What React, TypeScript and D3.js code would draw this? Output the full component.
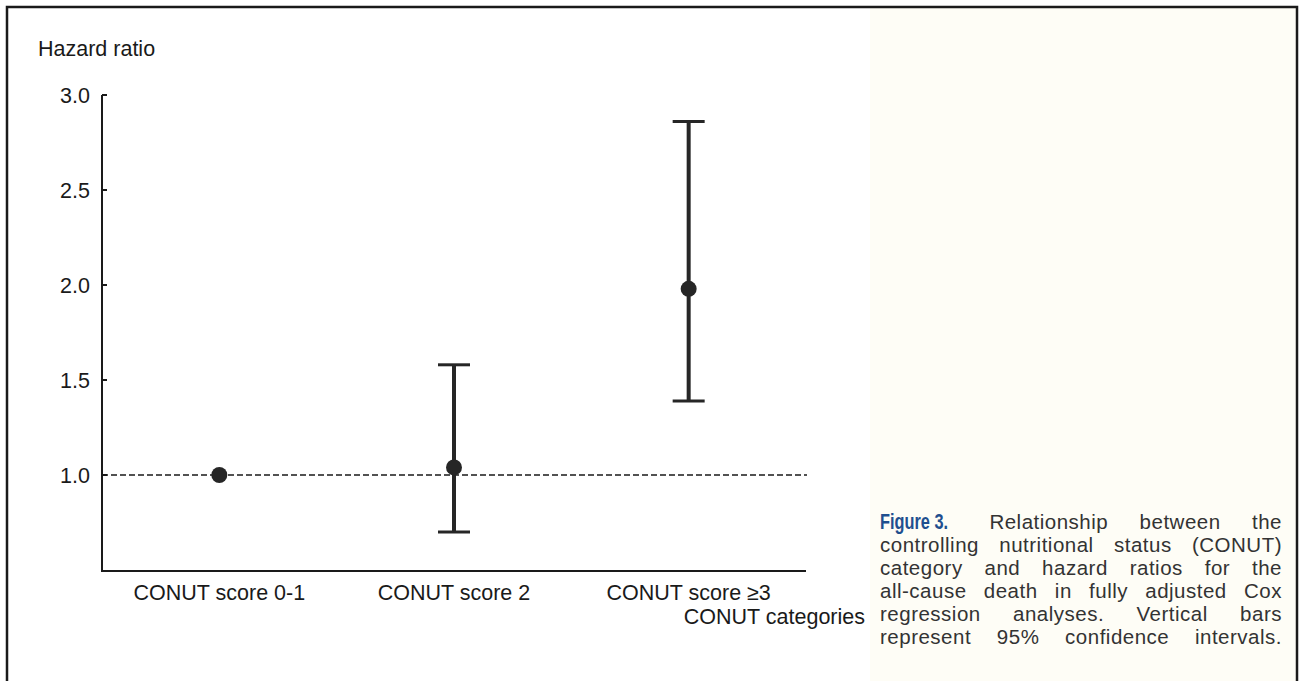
import React, { useEffect, useRef } from 'react';
import * as d3 from 'd3';

const categories = ['CONUT score 0-1', 'CONUT score 2', 'CONUT score \u22653'];
const hazardRatio = [1.0, 1.04, 1.98];
const ciLower = [1.0, 0.7, 1.39];
const ciUpper = [1.0, 1.58, 2.86];
const yTicks = [1.0, 1.5, 2.0, 2.5, 3.0];

const captionLines = [
  'Relationship between the',
  'controlling nutritional status (CONUT)',
  'category and hazard ratios for the',
  'all-cause death in fully adjusted Cox',
  'regression analyses. Vertical bars',
  'represent 95% confidence intervals.',
];

const W = 1301;
const H = 681;
const FONT = "'Liberation Sans', Arial, Helvetica, sans-serif";

const App = () => {
  const ref = useRef<SVGSVGElement | null>(null);

  useEffect(() => {
    if (!ref.current) return;
    const svg = d3.select(ref.current);
    svg.selectAll('*').remove();

    // page background + frame
    svg.append('rect').attr('width', W).attr('height', H).attr('fill', '#ffffff');
    svg.append('rect').attr('x', 870).attr('y', 7).attr('width', 427).attr('height', H)
      .attr('fill', '#fefdf6');
    svg.append('rect').attr('x', 7).attr('y', 7).attr('width', 1290).attr('height', H + 20)
      .attr('fill', 'none').attr('stroke', '#1a1a1a').attr('stroke-width', 2.5);

    const x = d3.scalePoint<string>().domain(categories).range([102, 806]).padding(0.5);
    const y = d3.scaleLinear().domain([0.5, 3.0]).range([570, 95]);

    const g = svg.append('g').style('font-family', FONT).style('fill', '#1a1a1a');

    // y axis title
    g.append('text').attr('x', 38).attr('y', 56).attr('font-size', 21.5).text('Hazard ratio');

    // axes lines
    g.append('line').attr('x1', 102).attr('x2', 102).attr('y1', y(3.0)).attr('y2', 571)
      .attr('stroke', '#1a1a1a').attr('stroke-width', 2);
    g.append('line').attr('x1', 101).attr('x2', 806).attr('y1', 571).attr('y2', 571)
      .attr('stroke', '#1a1a1a').attr('stroke-width', 2);

    // y ticks
    yTicks.forEach(t => {
      g.append('line').attr('x1', 102).attr('x2', 107).attr('y1', y(t)).attr('y2', y(t))
        .attr('stroke', '#1a1a1a').attr('stroke-width', 2);
      g.append('text').attr('x', 90).attr('y', y(t)).attr('dy', '0.35em')
        .attr('text-anchor', 'end').attr('font-size', 21.5).text(d3.format('.1f')(t));
    });

    // reference line HR = 1
    g.append('line').attr('x1', 102).attr('x2', 807).attr('y1', y(1)).attr('y2', y(1))
      .attr('stroke', '#1a1a1a').attr('stroke-width', 1.6).attr('stroke-dasharray', '6,3');

    // category labels
    categories.forEach(c => {
      g.append('text').attr('x', x(c)!).attr('y', 600).attr('text-anchor', 'middle')
        .attr('font-size', 21.5).text(c);
    });
    g.append('text').attr('x', 865).attr('y', 624).attr('text-anchor', 'end')
      .attr('font-size', 21.5).text('CONUT categories');

    // error bars + points
    categories.forEach((c, i) => {
      const cx = x(c)!;
      if (ciUpper[i] !== ciLower[i]) {
        g.append('line').attr('x1', cx).attr('x2', cx).attr('y1', y(ciUpper[i])).attr('y2', y(ciLower[i]))
          .attr('stroke', '#262626').attr('stroke-width', 4);
        [ciUpper[i], ciLower[i]].forEach(v => {
          g.append('line').attr('x1', cx - 16).attr('x2', cx + 16).attr('y1', y(v)).attr('y2', y(v))
            .attr('stroke', '#262626').attr('stroke-width', 3);
        });
      }
      g.append('circle').attr('cx', cx).attr('cy', y(hazardRatio[i])).attr('r', 8)
        .attr('fill', '#262626');
    });

    // justified caption
    const cap = svg.append('g').style('font-family', FONT).attr('font-size', 20.5)
      .attr('letter-spacing', 0.5).style('fill', '#333333');
    const left = 880;
    const right = 1282;
    const figW = 68;
    captionLines.forEach((line, li) => {
      const by = 529 + li * 23;
      const words: { text: string; bold?: boolean }[] = line.split(' ').map(w => ({ text: w }));
      if (li === 0) words.unshift({ text: 'Figure 3.', bold: true });
      const nodes = words.map(w => {
        const t = cap.append('text').attr('y', by).text(w.text);
        if (w.bold) {
          t.attr('font-weight', 'bold').style('fill', '#1f4f8f').attr('font-size', 22)
            .attr('letter-spacing', 0)
            .attr('textLength', figW).attr('lengthAdjust', 'spacingAndGlyphs');
        }
        return t;
      });
      const widths = nodes.map((n, k) => words[k].bold ? figW : (n.node() as SVGTextElement).getComputedTextLength());
      const total = d3.sum(widths);
      const gaps = words.length - 1;
      const extra = li === 0 ? 10 : 0;
      const gap = (right - left - total - extra) / gaps;
      let cx = left;
      nodes.forEach((n, k) => {
        n.attr('x', cx);
        cx += widths[k] + gap + (k === 0 && li === 0 ? extra : 0);
      });
    });
  }, []);

  return <svg ref={ref} width={W} height={H} style={{ display: 'block', position: 'absolute', left: 0, top: 0 }} />;
};

export default App;
